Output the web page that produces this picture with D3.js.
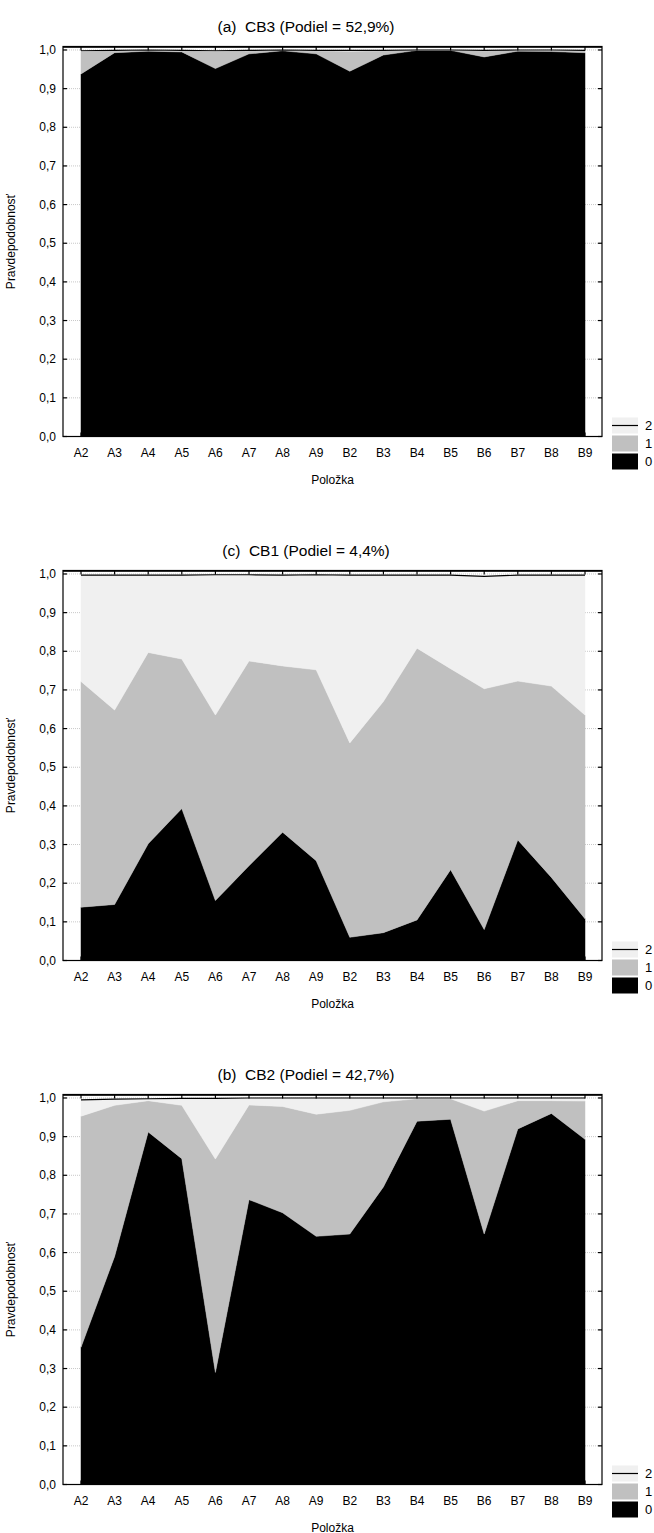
<!DOCTYPE html>
<html><head><meta charset="utf-8">
<script src="https://cdn.jsdelivr.net/npm/d3@7"></script>
<style>
body{margin:0;background:#fff}
svg text{font-family:Arial,"Liberation Sans",sans-serif;fill:#000}
</style>
</head><body>
<script>
// ---- data ----
const categories = ["A2","A3","A4","A5","A6","A7","A8","A9","B2","B3","B4","B5","B6","B7","B8","B9"];
const yTicks = [0,0.1,0.2,0.3,0.4,0.5,0.6,0.7,0.8,0.9,1.0];
const seriesKeys = ["0","1","2"];
const legendLabels = ["2","1","0"];
const panelTitles = ["(a)  CB3 (Podiel = 52,9%)","(c)  CB1 (Podiel = 4,4%)","(b)  CB2 (Podiel = 42,7%)"];

// CB3
const cb3_p0 = [0.938,0.993,0.997,0.995,0.952,0.990,0.998,0.990,0.945,0.987,0.999,0.999,0.982,0.997,0.996,0.993];
const cb3_p1 = [0.058,0.005,0.002,0.003,0.044,0.008,0.001,0.008,0.052,0.011,0.001,0.001,0.016,0.002,0.003,0.005];
const cb3_p2 = [0.002,0.001,0.001,0.001,0.002,0.001,0.001,0.001,0.002,0.001,0.000,0.000,0.001,0.001,0.001,0.001];
// CB1
const cb1_p0 = [0.138,0.145,0.302,0.393,0.155,0.245,0.332,0.258,0.060,0.072,0.105,0.235,0.080,0.312,0.215,0.108];
const cb1_p1 = [0.584,0.503,0.495,0.387,0.480,0.530,0.430,0.494,0.503,0.598,0.703,0.520,0.623,0.411,0.495,0.527];
const cb1_p2 = [0.275,0.349,0.200,0.217,0.363,0.223,0.235,0.246,0.434,0.327,0.189,0.242,0.291,0.274,0.287,0.362];
// CB2
const cb2_p0 = [0.355,0.590,0.912,0.843,0.290,0.737,0.703,0.642,0.648,0.770,0.940,0.945,0.648,0.920,0.960,0.893];
const cb2_p1 = [0.598,0.391,0.081,0.138,0.552,0.245,0.275,0.316,0.320,0.220,0.058,0.053,0.318,0.073,0.033,0.099];
const cb2_p2 = [0.042,0.016,0.005,0.018,0.157,0.018,0.022,0.042,0.032,0.010,0.002,0.002,0.034,0.007,0.007,0.008];

const panelData = [[cb3_p0,cb3_p1,cb3_p2],[cb1_p0,cb1_p1,cb1_p2],[cb2_p0,cb2_p1,cb2_p2]];

// ---- layout ----
const W = 654, H = 1533;
const fx0 = 63, fx1 = 602;
const panelTops = [46.5, 570.5, 1094.5];
const panelH = 390;
const fills = {"0":"#000000","1":"#c0c0c0","2":"#f0f0f0"};

const svg = d3.select("body").append("svg").attr("width",W).attr("height",H);

const x = d3.scalePoint().domain(categories).range([fx0+18, fx1-17]);
const fmt = d => d3.format(".1f")(d).replace(".", ",");

panelData.forEach((arrs, pi) => {
  const T = panelTops[pi], B = T + panelH;
  const y = d3.scaleLinear().domain([0, 1.009]).range([B, T]);
  const g = svg.append("g");

  const rows = categories.map((c,i) => ({cat:c, "0":arrs[0][i], "1":arrs[1][i], "2":arrs[2][i]}));
  const stacked = d3.stack().keys(seriesKeys)(rows);

  // grid
  g.selectAll(".grid").data(yTicks).join("line")
    .attr("x1",fx0).attr("x2",fx1).attr("y1",d=>y(d)).attr("y2",d=>y(d))
    .attr("stroke","#c8c8c8").attr("stroke-width",1).attr("stroke-dasharray","1,1");

  const area = d3.area().x(d=>x(d.data.cat)).y0(d=>y(d[0])).y1(d=>y(d[1]));
  g.selectAll(".ar").data(stacked).join("path")
    .attr("d", area).attr("fill", s=>fills[s.key]).attr("stroke", s=>fills[s.key]).attr("stroke-width",0.5);

  const topLine = d3.line().x(d=>x(d.data.cat)).y(d=>y(d[1]));
  g.append("path").datum(stacked[2]).attr("d", topLine)
    .attr("fill","none").attr("stroke","#000").attr("stroke-width",1.2);

  // frame
  g.append("rect").attr("x",fx0).attr("y",T).attr("width",fx1-fx0).attr("height",panelH)
    .attr("fill","none").attr("stroke","#000").attr("stroke-width",1.2);
  g.append("line").attr("x1",fx0).attr("x2",fx1).attr("y1",T+0.8).attr("y2",T+0.8)
    .attr("stroke","#000").attr("stroke-width",1);

  // y ticks left & right (inward)
  g.selectAll(".tl").data(yTicks).join("line")
    .attr("x1",fx0).attr("x2",fx0+4).attr("y1",d=>y(d)).attr("y2",d=>y(d)).attr("stroke","#000").attr("stroke-width",1.2);
  g.selectAll(".tr").data(yTicks).join("line")
    .attr("x1",fx1-4).attr("x2",fx1).attr("y1",d=>y(d)).attr("y2",d=>y(d)).attr("stroke","#000").attr("stroke-width",1.2);
  // x ticks top (inward)
  g.selectAll(".tt").data(categories).join("line")
    .attr("x1",d=>x(d)).attr("x2",d=>x(d)).attr("y1",T).attr("y2",T+4).attr("stroke","#000").attr("stroke-width",1.2);
  g.selectAll(".tb").data(categories).join("line")
    .attr("x1",d=>x(d)).attr("x2",d=>x(d)).attr("y1",B-4).attr("y2",B).attr("stroke","#000").attr("stroke-width",1.2);

  // y tick labels
  g.selectAll(".yl").data(yTicks).join("text")
    .attr("x",fx0-7).attr("y",d=>y(d)).attr("dy","0.35em").attr("text-anchor","end")
    .attr("font-size",12).text(fmt);
  // x tick labels
  g.selectAll(".xl").data(categories).join("text")
    .attr("x",d=>x(d)).attr("y",B+20).attr("text-anchor","middle").attr("font-size",12).text(d=>d);

  // titles & axis labels
  g.append("text").attr("x",306).attr("y",T-15).attr("text-anchor","middle")
    .attr("font-size",15.5).style("white-space","pre").text(panelTitles[pi]);
  g.append("text").attr("x",(fx0+fx1)/2).attr("y",B+47).attr("text-anchor","middle")
    .attr("font-size",12).text("Položka");
  g.append("text").attr("transform",`translate(15,${T+panelH/2}) rotate(-90)`)
    .attr("text-anchor","middle").attr("font-size",12).text("Pravdepodobnosť");

  // legend
  const lg = g.append("g");
  legendLabels.forEach((k, li) => {
    const ry = B - 19 + li*18;
    lg.append("rect").attr("x",612).attr("y",ry).attr("width",26).attr("height",16).attr("fill",fills[k]);
    if (k === "2") lg.append("line").attr("x1",612).attr("x2",638).attr("y1",ry+8).attr("y2",ry+8)
      .attr("stroke","#000").attr("stroke-width",1.2);
    lg.append("text").attr("x",645).attr("y",ry+8).attr("dy","0.35em").attr("font-size",13).text(k);
  });
});
</script>
</body></html>
